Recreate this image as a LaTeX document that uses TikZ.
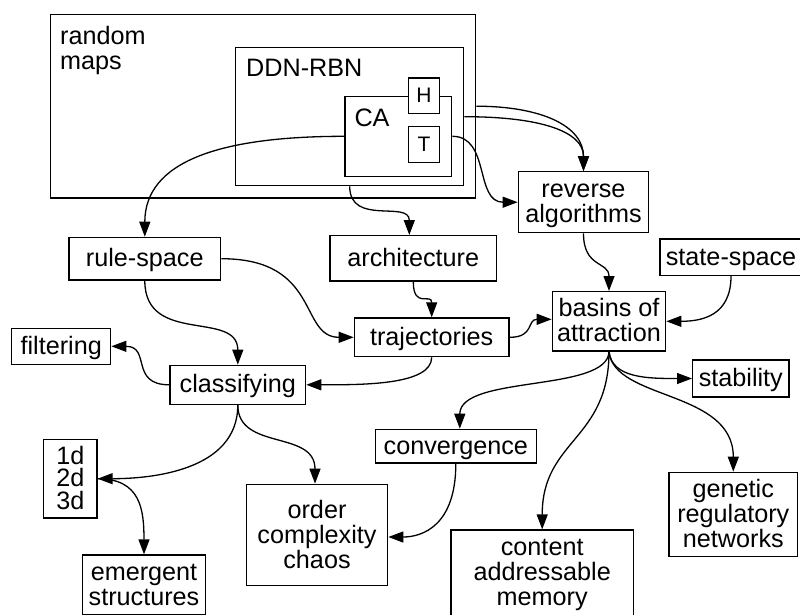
\documentclass[tikz,border=0pt]{standalone}
\usepackage{fontspec}
\setmainfont{Liberation Sans}
\usetikzlibrary{arrows.meta}
\newcommand{\tx}[1]{\vrule height 18pt depth 2pt width 0pt\smash{#1}}
\newcommand{\dfont}{\fontsize{25.2}{25}\selectfont}
\begin{document}
\begin{tikzpicture}[x=1pt,y=-1pt,
  bx/.style={draw, line width=1.3pt, inner sep=0pt, align=center, font=\dfont, fill=white},
  lbl/.style={inner sep=0pt, anchor=north west, align=left, font=\dfont},
  con/.style={line width=1.3pt, -{Triangle[length=15pt,width=11pt]}}]
\clip (0,0) rectangle (800,614);
\fill[white] (0,0) rectangle (800,614);
% nested boxes
\node[bx, minimum width=425pt, minimum height=183.7pt] (rm) at (263.2,106.2) {};
\node[lbl] (rmt) at (60,26.3) {\tx{random}\\\tx{maps}};
\node[bx, minimum width=228pt, minimum height=138pt] (ddn) at (349.7,116.7) {};
\node[lbl] (ddnt) at (246,58.7) {\tx{DDN-RBN}};
\node[bx, minimum width=106.7pt, minimum height=80pt] (ca) at (398.3,136.3) {};
\node[lbl] (cat) at (354.3,108) {\tx{CA}};
\node[bx, minimum width=30.6pt, minimum height=35.3pt, font=\fontsize{21}{21}\selectfont] (h) at (424,95.7) {H};
\node[bx, minimum width=30.6pt, minimum height=36pt, font=\fontsize{21}{21}\selectfont] (t) at (424,144.7) {T};
% other boxes
\node[bx, minimum width=130.4pt, minimum height=61pt] (rev) at (583.5,202.2) {\tx{reverse}\\\tx{algorithms}};
\node[bx, minimum width=142pt, minimum height=36.5pt] (state) at (731,257.2) {\tx{state-space}};
\node[bx, minimum width=113.4pt, minimum height=59.3pt] (basins) at (609,321.3) {\tx{basins of}\\\tx{attraction}};
\node[bx, minimum width=96.3pt, minimum height=37pt] (stab) at (740.8,378.5) {\tx{stability}};
\node[bx, minimum width=166.7pt, minimum height=45.3pt] (arch) at (413.3,258.3) {\tx{architecture}};
\node[bx, minimum width=154.7pt, minimum height=38.7pt] (traj) at (431.7,337.3) {\tx{trajectories}};
\node[bx, minimum width=151.7pt, minimum height=42.7pt] (rule) at (144.8,258.7) {\tx{rule-space}};
\node[bx, minimum width=99pt, minimum height=36pt] (filt) at (61.2,346.3) {\tx{filtering}};
\node[bx, minimum width=135.7pt, minimum height=39pt] (class) at (237.8,384.8) {\tx{classifying}};
\node[bx, minimum width=161pt, minimum height=33.7pt] (conv) at (455.8,446.2) {\tx{convergence}};
\node[bx, minimum width=53.3pt, minimum height=78.7pt, font=\fontsize{25.2}{22.5}\selectfont] (dims) at (70.3,478.7) {\tx{1d}\\\tx{2d}\\\tx{3d}};
\node[bx, minimum width=141.4pt, minimum height=101.4pt] (order) at (317,535) {\tx{order}\\\tx{complexity}\\\tx{chaos}};
\node[bx, minimum width=182.3pt, minimum height=85.6pt] (content) at (542.2,572.8) {\tx{content}\\\tx{addressable}\\\tx{memory}};
\node[bx, minimum width=128.7pt, minimum height=84.4pt] (gen) at (733.3,514.5) {\tx{genetic}\\\tx{regulatory}\\\tx{networks}};
\node[bx, minimum width=122.6pt, minimum height=60pt] (emerg) at (144,585) {\tx{emergent}\\\tx{structures}};
% connectors
\draw[con] (ca.west) .. controls +(-125,0) and +(0,-75) .. (rule.north);
\draw[con] (ddn.south) .. controls +(0,40) and +(0,-35) .. ([xshift=-4pt]arch.north);
\draw[con] (rm.east) .. controls +(65,0) and +(0,-45) .. (rev.north);
\draw[con] (ddn.east) .. controls +(75,0) and +(0,-40) .. (rev.north);
\draw[con] (ca.east) .. controls +(38,0) and +(-43,0) .. (rev.west);
\draw[con] (rev.south) .. controls +(0,35) and +(0,-30) .. (basins.north);
\draw[con] (state.south) .. controls +(0,40) and +(35,0) .. (basins.east);
\draw[con] (traj.east) .. controls +(25,0) and +(-25,0) .. ([yshift=2pt]basins.west);
\draw[con] (arch.south) .. controls +(0,28) and +(0,-25) .. (traj.north);
\draw[con] (rule.east) .. controls +(100,0) and +(-55,0) .. (traj.west);
\draw[con] (rule.south) .. controls +(0,65) and +(0,-55) .. (class.north);
\draw[con] (traj.south) .. controls +(0,28) and +(55,0) .. (class.east);
\draw[con] (class.west) .. controls +(-40,0) and +(40,0) .. (filt.east);
\draw[con] (class.south) .. controls +(0,66) and +(53,0) .. (dims.east);
\draw[con] (class.south) .. controls +(0,46) and +(0,-54) .. ([xshift=-2pt]order.north);
\draw[con] (dims.east) .. controls +(43,0) and +(0,-45) .. (emerg.north);
\draw[con] (basins.south) .. controls +(3,27) and +(-43,0) .. (stab.west);
\draw[con] (basins.south) .. controls +(-1,41) and +(0,-54) .. ([xshift=4pt]conv.north);
\draw[con] (basins.south) .. controls +(0,89) and +(0,-90) .. (content.north);
\draw[con] (basins.south) .. controls +(5,49) and +(0,-82) .. (gen.north);
\draw[con] (conv.south) .. controls +(0,62) and +(34,0) .. ([yshift=-2pt]order.east);
\end{tikzpicture}
\end{document}
